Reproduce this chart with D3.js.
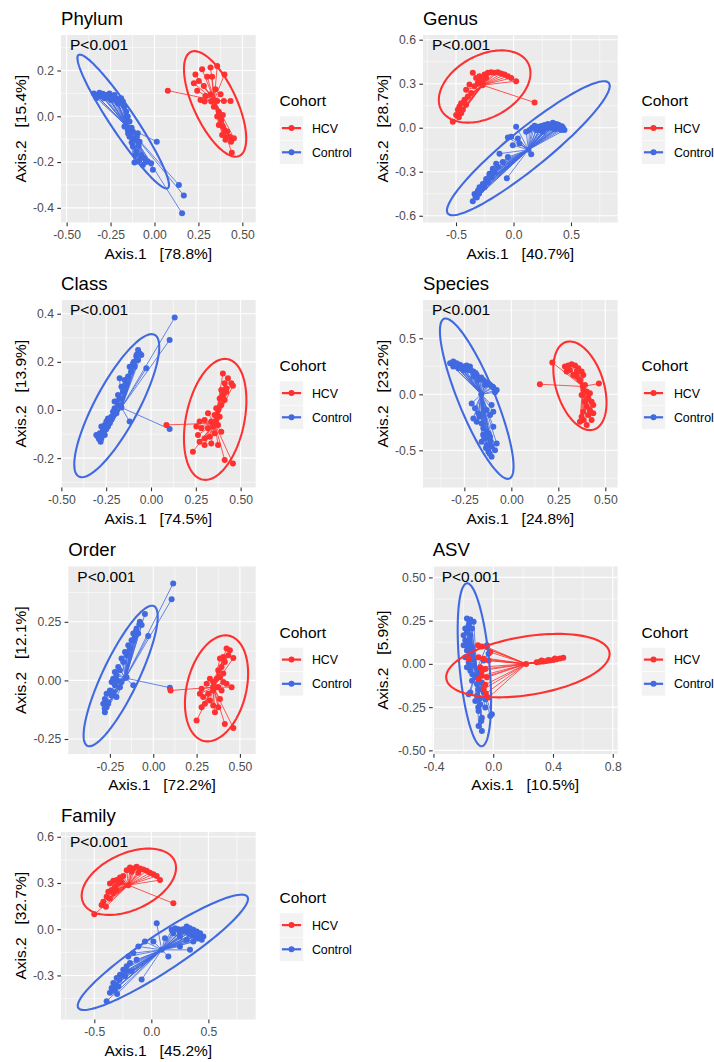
<!DOCTYPE html>
<html>
<head>
<meta charset="utf-8">
<script src="https://cdn.jsdelivr.net/npm/d3@7"></script>
<style>
  body { margin: 0; background: #fff; }
  text { font-family: "Liberation Sans", Arial, sans-serif; }
</style>
</head>
<body>
<svg id="chart" width="714" height="1062"></svg>
<script>
'use strict';

/* globals d3 */

// ---- data ----
var panelNames = ['Phylum', 'Genus', 'Class', 'Species', 'Order', 'ASV', 'Family'];
var pLabels = ['P<0.001', 'P<0.001', 'P<0.001', 'P<0.001', 'P<0.001', 'P<0.001', 'P<0.001'];
var axis1Pct = ['78.8', '40.7', '74.5', '24.8', '72.2', '10.5', '45.2'];
var axis2Pct = ['15.4', '28.7', '13.9', '23.2', '12.1', '5.9', '32.7'];
var groups = ['HCV', 'Control'];

var xDomains = [[-0.532, 0.576], [-0.787, 0.906], [-0.502, 0.584], [-0.470, 0.566], [-0.490, 0.591], [-0.405, 0.833], [-0.792, 0.915]];
var yDomains = [[-0.464, 0.355], [-0.646, 0.632], [-0.322, 0.457], [-0.832, 0.842], [-0.314, 0.486], [-0.521, 0.563], [-0.586, 0.631]];

var xTickLabels = [
    ['-0.50', '-0.25', '0.00', '0.25', '0.50'],
    ['-0.5', '0.0', '0.5'],
    ['-0.50', '-0.25', '0.00', '0.25', '0.50'],
    ['-0.25', '0.00', '0.25', '0.50'],
    ['-0.25', '0.00', '0.25', '0.50'],
    ['-0.4', '0.0', '0.4', '0.8'],
    ['-0.5', '0.0', '0.5']
];
var yTickLabels = [
    ['-0.4', '-0.2', '0.0', '0.2'],
    ['-0.6', '-0.3', '0.0', '0.3', '0.6'],
    ['-0.2', '0.0', '0.2', '0.4'],
    ['-0.5', '0.0', '0.5'],
    ['-0.25', '0.00', '0.25'],
    ['-0.50', '-0.25', '0.00', '0.25', '0.50'],
    ['-0.3', '0.0', '0.3', '0.6']
];

var phylumHCV = [[0.076,0.112],[0.233,0.183],[0.271,0.205],[0.319,0.213],[0.357,0.220],[0.398,0.183],[0.224,0.144],[0.252,0.154],[0.281,0.132],[0.300,0.173],[0.328,0.173],[0.243,0.111],[0.262,0.071],[0.290,0.089],[0.319,0.096],[0.347,0.118],[0.376,0.096],[0.357,0.067],[0.395,0.067],[0.433,0.067],[0.338,0.042],[0.366,0.020],[0.357,-0.001],[0.380,-0.016],[0.366,-0.038],[0.389,-0.045],[0.398,-0.060],[0.414,-0.067],[0.385,-0.082],[0.408,-0.092],[0.427,-0.089],[0.452,-0.096],[0.436,-0.111],[0.404,-0.103],[0.440,-0.159],[0.389,0.006],[0.323,0.064],[0.285,0.064]];
var phylumControl = [[-0.345,0.100],[-0.332,0.093],[-0.313,0.103],[-0.294,0.098],[-0.275,0.093],[-0.256,0.100],[-0.237,0.086],[-0.218,0.079],[-0.199,0.071],[-0.180,0.064],[-0.323,0.086],[-0.285,0.079],[-0.247,0.071],[-0.209,0.057],[-0.171,0.042],[-0.161,0.020],[-0.152,-0.001],[-0.142,-0.023],[-0.171,-0.045],[-0.152,-0.060],[-0.123,-0.067],[-0.095,-0.074],[-0.142,-0.089],[-0.114,-0.103],[-0.085,-0.111],[-0.123,-0.132],[-0.104,-0.154],[-0.076,-0.169],[-0.057,-0.183],[-0.095,-0.198],[-0.114,-0.202],[-0.038,-0.198],[-0.019,-0.205],[-0.066,-0.213],[-0.009,-0.234],[0.013,-0.111],[0.139,-0.300],[0.167,-0.346],[0.157,-0.424],[-0.266,0.086],[-0.228,0.093],[-0.190,0.079],[-0.330,0.080],[-0.300,0.088],[-0.260,0.080],[-0.220,0.068],[-0.180,0.050],[-0.160,0.000],[-0.130,-0.050],[-0.100,-0.090],[-0.090,-0.130],[-0.110,-0.170],[-0.085,-0.190],[-0.050,-0.200],[-0.130,-0.115],[-0.150,-0.075]];

var genusHCV = [[-0.354,0.374],[-0.296,0.351],[-0.252,0.362],[-0.223,0.374],[-0.194,0.378],[-0.165,0.374],[-0.136,0.378],[-0.107,0.369],[-0.078,0.362],[-0.049,0.351],[-0.020,0.339],[0.023,0.317],[-0.281,0.328],[-0.310,0.305],[-0.339,0.282],[-0.383,0.294],[-0.412,0.259],[-0.368,0.236],[-0.397,0.213],[-0.426,0.190],[-0.455,0.167],[-0.470,0.144],[-0.484,0.122],[-0.441,0.122],[-0.455,0.099],[-0.499,0.087],[-0.475,0.071],[-0.528,0.041],[-0.325,0.339],[-0.238,0.339],[-0.267,0.305],[-0.412,0.156],[0.183,0.172]];
var genusControl = [[0.342,0.034],[0.371,0.025],[0.400,0.011],[0.429,0.002],[0.443,-0.016],[0.414,-0.016],[0.386,-0.005],[0.357,0.007],[0.328,0.018],[0.299,0.025],[0.270,0.018],[0.241,0.011],[0.212,0.007],[0.183,0.014],[0.162,0.000],[0.284,-0.005],[0.226,-0.016],[0.255,-0.028],[0.197,-0.016],[0.139,-0.016],[0.110,-0.028],[0.023,0.007],[-0.020,-0.062],[-0.049,-0.067],[0.038,-0.073],[-0.006,-0.119],[0.052,-0.108],[-0.122,-0.177],[0.154,-0.181],[-0.151,-0.245],[-0.058,-0.344],[-0.180,-0.280],[-0.209,-0.314],[-0.238,-0.349],[-0.267,-0.383],[-0.296,-0.406],[-0.310,-0.429],[-0.339,-0.452],[-0.319,-0.475],[-0.354,-0.502],[-0.281,-0.424],[-0.252,-0.406],[-0.223,-0.372],[-0.194,-0.337],[-0.165,-0.303],[-0.136,-0.268],[-0.093,-0.234],[-0.049,-0.200],[0.300,0.005],[0.330,0.000],[0.360,-0.010],[0.390,0.020],[0.420,0.010],[0.240,0.000],[0.270,-0.010],[-0.330,-0.470],[-0.300,-0.450],[-0.270,-0.400],[-0.240,-0.370],[-0.210,-0.330],[-0.180,-0.300]];

var classHCV = [[0.401,0.152],[0.429,0.132],[0.448,0.111],[0.457,0.101],[0.411,0.111],[0.392,0.083],[0.420,0.076],[0.401,0.062],[0.383,0.048],[0.411,0.042],[0.392,0.021],[0.374,0.000],[0.355,-0.021],[0.383,-0.028],[0.364,-0.042],[0.336,-0.048],[0.318,-0.014],[0.299,-0.042],[0.271,-0.048],[0.253,-0.069],[0.281,-0.076],[0.318,-0.076],[0.346,-0.069],[0.374,-0.062],[0.392,-0.090],[0.355,-0.097],[0.327,-0.111],[0.299,-0.118],[0.262,-0.104],[0.271,-0.132],[0.234,-0.173],[0.299,-0.145],[0.336,-0.139],[0.374,-0.145],[0.411,-0.208],[0.457,-0.222],[0.086,-0.062],[0.364,0.007],[0.420,0.090]];
var classControl = [[-0.072,0.249],[-0.063,0.235],[-0.054,0.229],[-0.082,0.222],[-0.072,0.208],[-0.100,0.194],[-0.091,0.180],[-0.119,0.180],[-0.110,0.159],[-0.128,0.139],[-0.147,0.125],[-0.138,0.111],[-0.165,0.097],[-0.156,0.076],[-0.184,0.062],[-0.175,0.048],[-0.193,0.035],[-0.184,0.021],[-0.203,0.007],[-0.212,-0.007],[-0.193,-0.014],[-0.221,-0.028],[-0.240,-0.035],[-0.249,-0.048],[-0.258,-0.062],[-0.230,-0.055],[-0.277,-0.069],[-0.268,-0.083],[-0.286,-0.097],[-0.296,-0.111],[-0.277,-0.118],[-0.305,-0.104],[-0.258,-0.104],[-0.281,-0.132],[0.132,0.384],[0.104,0.291],[-0.026,0.173],[0.104,-0.079],[-0.119,-0.048],[-0.175,0.132],[-0.203,0.035],[-0.240,-0.069],[-0.290,-0.120],[-0.270,-0.100],[-0.250,-0.080],[-0.220,-0.040],[-0.200,0.000],[-0.080,0.230],[-0.095,0.200],[-0.150,0.100]];

var speciesHCV = [[0.285,0.248],[0.303,0.257],[0.321,0.269],[0.339,0.257],[0.356,0.233],[0.374,0.203],[0.348,0.203],[0.312,0.218],[0.294,0.203],[0.330,0.173],[0.383,0.173],[0.365,0.128],[0.392,0.084],[0.383,0.039],[0.401,0.024],[0.418,0.009],[0.410,-0.036],[0.392,-0.066],[0.427,-0.066],[0.436,-0.096],[0.401,-0.110],[0.418,-0.140],[0.383,-0.155],[0.374,-0.200],[0.410,-0.185],[0.436,-0.170],[0.383,-0.230],[0.401,-0.275],[0.365,-0.245],[0.152,0.090],[0.218,0.284],[0.466,0.096],[0.348,0.158],[0.374,-0.006],[0.427,-0.230]];
var speciesControl = [[-0.326,0.278],[-0.309,0.293],[-0.291,0.278],[-0.273,0.263],[-0.255,0.248],[-0.238,0.257],[-0.220,0.248],[-0.229,0.218],[-0.255,0.218],[-0.282,0.233],[-0.309,0.248],[-0.202,0.203],[-0.184,0.173],[-0.167,0.143],[-0.149,0.128],[-0.131,0.107],[-0.113,0.084],[-0.096,0.060],[-0.078,0.039],[-0.087,0.018],[-0.140,0.084],[-0.176,0.128],[-0.202,0.158],[-0.211,-0.081],[-0.193,-0.125],[-0.176,-0.170],[-0.202,-0.215],[-0.184,-0.245],[-0.131,-0.140],[-0.113,-0.185],[-0.096,-0.155],[-0.105,-0.096],[-0.149,-0.304],[-0.131,-0.334],[-0.140,-0.394],[-0.113,-0.379],[-0.158,-0.424],[-0.131,-0.454],[-0.105,-0.469],[-0.122,-0.513],[-0.105,-0.558],[-0.087,-0.499],[-0.078,-0.439],[-0.096,-0.290],[-0.158,-0.260],[-0.300,0.260],[-0.270,0.245],[-0.250,0.230],[-0.215,0.215],[-0.190,0.190],[-0.160,0.150],[-0.120,0.095],[-0.100,0.070],[-0.120,-0.350],[-0.110,-0.420],[-0.135,-0.480],[-0.115,-0.530],[-0.150,-0.360],[-0.170,-0.200]];

var orderHCV = [[0.423,0.136],[0.442,0.129],[0.462,0.096],[0.433,0.107],[0.404,0.100],[0.385,0.093],[0.413,0.079],[0.394,0.057],[0.375,0.043],[0.404,0.029],[0.385,0.014],[0.365,0.007],[0.346,-0.007],[0.327,0.007],[0.308,-0.014],[0.279,-0.036],[0.269,-0.057],[0.288,-0.071],[0.317,-0.057],[0.346,-0.043],[0.375,-0.029],[0.394,-0.043],[0.452,-0.029],[0.423,-0.014],[0.327,-0.086],[0.298,-0.100],[0.346,-0.107],[0.375,-0.114],[0.356,-0.136],[0.250,-0.171],[0.413,-0.186],[0.462,-0.203],[0.100,-0.043],[0.279,-0.114],[0.385,-0.079],[0.404,-0.007],[0.365,-0.029]];
var orderControl = [[-0.048,0.283],[-0.077,0.250],[-0.067,0.236],[-0.096,0.221],[-0.115,0.200],[-0.106,0.186],[-0.125,0.171],[-0.144,0.150],[-0.135,0.136],[-0.163,0.121],[-0.154,0.107],[-0.183,0.093],[-0.173,0.079],[-0.202,0.057],[-0.192,0.043],[-0.221,0.036],[-0.212,0.021],[-0.231,0.007],[-0.240,-0.007],[-0.221,-0.021],[-0.250,-0.043],[-0.269,-0.057],[-0.240,-0.064],[-0.279,-0.079],[-0.260,-0.093],[-0.288,-0.100],[-0.269,-0.114],[-0.279,-0.136],[-0.154,0.014],[-0.183,-0.007],[-0.115,0.171],[-0.087,0.200],[0.115,0.414],[0.106,0.346],[-0.029,0.189],[-0.115,-0.021],[0.096,-0.031],[-0.192,-0.029],[-0.212,-0.071],[-0.280,-0.120],[-0.260,-0.100],[-0.230,-0.050],[-0.210,0.000],[-0.080,0.240],[-0.100,0.210],[-0.150,0.120]];

var asvHCV = [[0.291,0.010],[0.313,0.012],[0.336,0.014],[0.358,0.016],[0.380,0.019],[0.402,0.023],[0.424,0.027],[0.447,0.031],[0.469,0.035],[0.324,0.019],[0.369,0.023],[0.413,0.031],[-0.102,0.107],[-0.076,0.101],[-0.042,0.097],[-0.098,0.039],[-0.064,0.029],[-0.031,0.019],[-0.087,-0.019],[-0.053,-0.029],[-0.076,-0.068],[-0.042,-0.078],[-0.098,-0.087],[-0.053,-0.120],[-0.064,-0.146],[-0.049,-0.171],[-0.031,-0.194],[-0.076,-0.039],[-0.164,0.029],[-0.020,0.068]];
var asvControl = [[-0.176,0.262],[-0.153,0.256],[-0.131,0.243],[-0.164,0.223],[-0.187,0.204],[-0.142,0.204],[-0.176,0.184],[-0.198,0.165],[-0.153,0.165],[-0.187,0.136],[-0.164,0.117],[-0.198,0.107],[-0.142,0.097],[-0.176,0.078],[-0.153,0.058],[-0.187,0.039],[-0.142,0.029],[-0.164,0.010],[-0.131,-0.010],[-0.176,-0.019],[-0.153,-0.039],[-0.098,-0.058],[-0.120,-0.078],[-0.142,-0.097],[-0.109,-0.117],[-0.076,-0.107],[-0.087,-0.146],[-0.153,-0.165],[-0.064,-0.165],[-0.109,-0.184],[-0.120,-0.214],[-0.087,-0.233],[-0.053,-0.252],[-0.098,-0.272],[-0.020,-0.301],[-0.076,-0.311],[-0.098,-0.359],[-0.076,-0.388],[-0.042,0.107],[-0.064,0.019],[-0.031,0.058],[-0.164,-0.175],[-0.053,-0.204],[-0.009,-0.291],[-0.160,0.240],[-0.170,0.200],[-0.160,0.140],[-0.170,0.100],[-0.150,0.080],[-0.165,0.040],[-0.150,-0.010],[-0.140,-0.060],[-0.100,-0.150],[-0.090,-0.200],[-0.100,-0.250],[-0.080,-0.330]];

var familyHCV = [[-0.187,0.401],[-0.158,0.394],[-0.129,0.405],[-0.099,0.394],[-0.070,0.388],[-0.041,0.379],[-0.012,0.366],[0.018,0.357],[0.047,0.345],[0.076,0.319],[-0.173,0.373],[-0.114,0.366],[-0.216,0.383],[-0.246,0.345],[-0.275,0.336],[-0.304,0.319],[-0.333,0.314],[-0.363,0.297],[-0.289,0.297],[-0.319,0.276],[-0.348,0.254],[-0.377,0.243],[-0.333,0.233],[-0.392,0.211],[-0.363,0.200],[-0.421,0.179],[-0.436,0.157],[-0.398,0.146],[-0.500,0.097],[0.193,0.168],[-0.260,0.308],[-0.304,0.254]];
var familyControl = [[0.310,0.017],[0.339,0.006],[0.368,-0.004],[0.398,-0.015],[0.427,-0.026],[0.456,-0.047],[0.442,-0.069],[0.412,-0.058],[0.383,-0.047],[0.354,-0.037],[0.325,-0.026],[0.295,-0.015],[0.266,-0.004],[0.237,0.000],[0.208,0.006],[0.178,-0.004],[0.193,-0.026],[0.251,-0.047],[0.310,-0.069],[0.368,-0.080],[0.047,0.039],[0.018,-0.080],[0.120,-0.058],[0.149,-0.177],[-0.114,-0.112],[-0.056,-0.080],[-0.085,-0.327],[-0.158,-0.155],[-0.187,-0.220],[-0.216,-0.241],[-0.246,-0.263],[-0.275,-0.295],[-0.304,-0.317],[-0.333,-0.349],[-0.348,-0.381],[-0.319,-0.392],[-0.363,-0.413],[-0.392,-0.467],[-0.289,-0.370],[-0.231,-0.306],[-0.173,-0.273],[-0.129,-0.198],[-0.202,-0.177],[0.251,-0.112],[0.339,-0.134],[0.280,0.000],[0.330,-0.010],[0.380,-0.030],[0.420,-0.040],[0.250,-0.020],[-0.340,-0.400],[-0.310,-0.360],[-0.280,-0.330],[-0.250,-0.300],[-0.220,-0.270],[-0.300,-0.420]];

// group centroids (spider hub) per panel
var centroidsHCV = [[0.34, 0.07], [-0.27, 0.29], [0.355, -0.055], [0.38, 0.07], [0.346, -0.029], [0.22, 0.0], [-0.202, 0.286]];
var centroidsControl = [[-0.15, -0.05], [0.13, -0.15], [-0.165, 0.01], [-0.16, 0.0], [-0.16, 0.01], [-0.11, -0.03], [0.091, -0.134]];

// 95% ellipses: centre x, centre y, then two conjugate half-axes (ux, uy), (vx, vy)
var ellipsesHCV = [
    [0.345, 0.054, -0.138, 0.227, 0.111, 0.040],
    [-0.251, 0.281, 0.378, 0.159, 0.126, -0.188],
    [0.358, -0.039, 0.071, 0.250, 0.159, -0.025],
    [0.365, 0.076, -0.075, 0.390, 0.120, 0.066],
    [0.365, -0.034, 0.075, 0.224, 0.166, -0.031],
    [0.232, -0.010, 0.546, 0.076, 0.030, -0.167],
    [-0.197, 0.308, 0.400, 0.137, 0.105, -0.166]
];
var ellipsesControl = [
    [-0.178, -0.023, -0.254, 0.291, 0.058, 0.030],
    [0.129, -0.140, 0.700, 0.445, 0.105, -0.104],
    [-0.191, 0.018, 0.212, 0.294, 0.106, -0.043],
    [-0.184, -0.039, -0.174, 0.713, 0.090, 0.062],
    [-0.188, 0.019, 0.192, 0.298, 0.094, -0.033],
    [-0.126, -0.005, -0.050, 0.471, 0.100, 0.008],
    [0.101, -0.150, 0.741, 0.361, 0.089, -0.099]
];

var pointsHCV = [phylumHCV, genusHCV, classHCV, speciesHCV, orderHCV, asvHCV, familyHCV];
var pointsControl = [phylumControl, genusControl, classControl, speciesControl, orderControl, asvControl, familyControl];

// ---- layout ----
var colors = { HCV: '#FF3030', Control: '#4169E1' };
var colLefts = [0, 362];
var rowTops = [0, 265, 531.5, 797];
var plotLefts = [61, 61, 61, 61, 68.3, 70.7, 61];
var plotRight = 255.7, plotTop = 35, plotBottom = 222.5;

var svg = d3.select('#chart');
svg.append('rect').attr('width', 714).attr('height', 1062).attr('fill', '#fff');

function minorTicks(t, dom) {
    var step = t[1] - t[0], out = [];
    for (var k = -1; k < t.length; k++) {
        var m = t[0] + (k + 0.5) * step;
        if (m > dom[0] && m < dom[1]) out.push(m);
    }
    return out;
}

panelNames.forEach(function (name, i) {
    var ox = colLefts[i % 2], oy = rowTops[Math.floor(i / 2)];
    var left = plotLefts[i];
    var g = svg.append('g').attr('transform', 'translate(' + ox + ',' + oy + ')');

    var x = d3.scaleLinear().domain(xDomains[i]).range([left, plotRight]);
    var y = d3.scaleLinear().domain(yDomains[i]).range([plotBottom, plotTop]);
    var xt = xTickLabels[i].map(Number), yt = yTickLabels[i].map(Number);

    // panel background + grid
    g.append('rect').attr('x', left).attr('y', plotTop)
        .attr('width', plotRight - left).attr('height', plotBottom - plotTop)
        .attr('fill', '#EBEBEB');

    var grid = g.append('g').attr('stroke', '#fff').attr('fill', 'none');
    minorTicks(xt, xDomains[i]).forEach(function (v) {
        grid.append('line').attr('x1', x(v)).attr('x2', x(v)).attr('y1', plotTop).attr('y2', plotBottom).attr('stroke-width', 0.55);
    });
    minorTicks(yt, yDomains[i]).forEach(function (v) {
        grid.append('line').attr('y1', y(v)).attr('y2', y(v)).attr('x1', left).attr('x2', plotRight).attr('stroke-width', 0.55);
    });
    xt.forEach(function (v) {
        grid.append('line').attr('x1', x(v)).attr('x2', x(v)).attr('y1', plotTop).attr('y2', plotBottom).attr('stroke-width', 1.1);
    });
    yt.forEach(function (v) {
        grid.append('line').attr('y1', y(v)).attr('y2', y(v)).attr('x1', left).attr('x2', plotRight).attr('stroke-width', 1.1);
    });

    // clip for plot contents
    var clipId = 'clip' + i;
    g.append('clipPath').attr('id', clipId).append('rect')
        .attr('x', left).attr('y', plotTop)
        .attr('width', plotRight - left).attr('height', plotBottom - plotTop);
    var plot = g.append('g').attr('clip-path', 'url(#' + clipId + ')');

    var sets = {
        Control: { pts: pointsControl[i], c: centroidsControl[i], e: ellipsesControl[i] },
        HCV: { pts: pointsHCV[i], c: centroidsHCV[i], e: ellipsesHCV[i] }
    };
    var drawOrder = ['Control', 'HCV'];

    // spider lines
    drawOrder.forEach(function (grp) {
        var s = sets[grp];
        plot.append('g').selectAll('line').data(s.pts).enter().append('line')
            .attr('x1', x(s.c[0])).attr('y1', y(s.c[1]))
            .attr('x2', function (d) { return x(d[0]); })
            .attr('y2', function (d) { return y(d[1]); })
            .attr('stroke', colors[grp]).attr('stroke-width', 0.8);
    });

    // points
    drawOrder.forEach(function (grp) {
        var s = sets[grp];
        plot.append('g').selectAll('circle').data(s.pts.concat([s.c])).enter().append('circle')
            .attr('cx', function (d) { return x(d[0]); })
            .attr('cy', function (d) { return y(d[1]); })
            .attr('r', 3).attr('fill', colors[grp]);
    });

    // ellipses
    var angles = d3.range(0, 2 * Math.PI, Math.PI / 60);
    var line = d3.line().curve(d3.curveLinearClosed);
    drawOrder.forEach(function (grp) {
        var e = sets[grp].e;
        var pts = angles.map(function (t) {
            return [x(e[0] + e[2] * Math.cos(t) + e[4] * Math.sin(t)),
                    y(e[1] + e[3] * Math.cos(t) + e[5] * Math.sin(t))];
        });
        plot.append('path').attr('d', line(pts))
            .attr('fill', 'none').attr('stroke', colors[grp]).attr('stroke-width', 2.1);
    });

    // axes
    var xAxis = d3.axisBottom(x).tickValues(xt)
        .tickFormat(function (d, j) { return xTickLabels[i][j]; })
        .tickSize(3.7).tickPadding(4.3);
    var yAxis = d3.axisLeft(y).tickValues(yt)
        .tickFormat(function (d, j) { return yTickLabels[i][j]; })
        .tickSize(3.7).tickPadding(3.3);

    [g.append('g').attr('transform', 'translate(0,' + plotBottom + ')').call(xAxis),
     g.append('g').attr('transform', 'translate(' + left + ',0)').call(yAxis)].forEach(function (ax) {
        ax.attr('font-family', '"Liberation Sans", Arial, sans-serif').attr('font-size', 12.2);
        ax.select('.domain').remove();
        ax.selectAll('.tick line').attr('stroke', '#333333').attr('stroke-width', 1.1);
        ax.selectAll('.tick text').attr('fill', '#4D4D4D');
    });

    // titles
    g.append('text').attr('x', left).attr('y', 24.5)
        .attr('font-size', 18.6).attr('fill', '#000').text(name);
    g.append('text').attr('x', left + 9).attr('y', plotTop + 15)
        .attr('font-size', 15.5).attr('fill', '#000').text(pLabels[i]);
    g.append('text').attr('x', (left + plotRight) / 2).attr('y', plotBottom + 36)
        .attr('text-anchor', 'middle').attr('font-size', 15.5).style('white-space', 'pre')
        .text('Axis.1   [' + axis1Pct[i] + '%]');
    g.append('text')
        .attr('transform', 'translate(26,' + (plotTop + plotBottom) / 2 + ') rotate(-90)')
        .attr('text-anchor', 'middle').attr('font-size', 15.5).style('white-space', 'pre')
        .text('Axis.2   [' + axis2Pct[i] + '%]');

    // legend
    var lx = plotRight + 23.8;
    var lg = g.append('g');
    lg.append('text').attr('x', lx).attr('y', 106).attr('font-size', 15.5).text('Cohort');
    groups.forEach(function (grp, k) {
        var ky = 116 + k * 24.2, cy = ky + 12.1;
        lg.append('rect').attr('x', lx).attr('y', ky).attr('width', 24).attr('height', 24.2)
            .attr('fill', '#F2F2F2').attr('stroke', '#fff').attr('stroke-width', 0.5);
        lg.append('line').attr('x1', lx + 2.4).attr('x2', lx + 21.6).attr('y1', cy).attr('y2', cy)
            .attr('stroke', colors[grp]).attr('stroke-width', 2.2);
        lg.append('circle').attr('cx', lx + 12).attr('cy', cy).attr('r', 3).attr('fill', colors[grp]);
        lg.append('text').attr('x', lx + 32.4).attr('y', cy + 4.4).attr('font-size', 12.4).text(grp);
    });
});
</script>
</body>
</html>
